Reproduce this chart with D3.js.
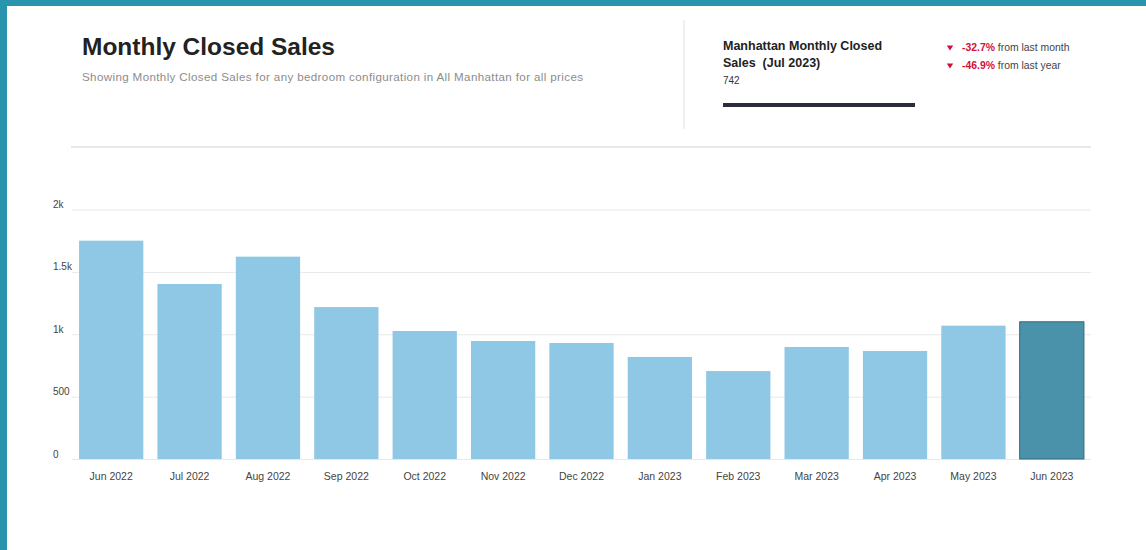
<html lang="en">
<head>
<meta charset="UTF-8">
<title>Monthly Closed Sales</title>
<style>
  body { margin: 0; }
  svg { display: block; font-family: "Liberation Sans", Arial, Helvetica, sans-serif; }
</style>
</head>
<body>
<script src="https://d3js.org/d3.v7.min.js"></script>
<script>
// data
const months = ['Jun 2022', 'Jul 2022', 'Aug 2022', 'Sep 2022', 'Oct 2022', 'Nov 2022', 'Dec 2022',
                'Jan 2023', 'Feb 2023', 'Mar 2023', 'Apr 2023', 'May 2023', 'Jun 2023']
const sales = [1750, 1403, 1622, 1218, 1026, 946, 930, 818, 705, 898, 866, 1069, 1100]
const yTicks = [0, 500, 1000, 1500, 2000]
const yTickLabels = ['0', '500', '1k', '1.5k', '2k']
const kpiTitle = ['Manhattan Monthly Closed', 'Sales  (Jul 2023)']
const kpiValue = '742'
const changes = [
    { pct: '-32.7%', text: 'from last month' },
    { pct: '-46.9%', text: 'from last year' }
]

const m = { width: 1146, height: 550 }

const svg = d3.select('body').append('svg')
    .attr('width', m.width)
    .attr('height', m.height)

// teal frame on the left and top
svg.append('rect').attr('width', m.width).attr('height', m.height).attr('fill', '#2a94ad')
svg.append('rect').attr('x', 7).attr('y', 6).attr('width', m.width - 7).attr('height', m.height - 6).attr('fill', '#fff')

// header
svg.append('text')
    .attr('x', 82).attr('y', 55)
    .attr('font-size', 24).attr('font-weight', 'bold').attr('fill', '#222')
    .attr('textLength', 253).attr('lengthAdjust', 'spacingAndGlyphs')
    .text('Monthly Closed Sales')

svg.append('text')
    .attr('x', 82).attr('y', 80.5)
    .attr('font-size', 11.6).attr('fill', '#8c8c8c')
    .attr('textLength', 501).attr('lengthAdjust', 'spacing')
    .text('Showing Monthly Closed Sales for any bedroom configuration in All Manhattan for all prices')

svg.append('line')
    .attr('x1', 684).attr('x2', 684).attr('y1', 20).attr('y2', 129)
    .attr('stroke', '#e6e6e6').attr('stroke-width', 1.2)

// KPI block
svg.selectAll('.kpi-title')
    .data(kpiTitle)
    .enter()
    .append('text')
        .attr('class', 'kpi-title')
        .attr('x', 723)
        .attr('y', (d, i) => 50 + i * 16.5)
        .attr('font-size', 12.5).attr('font-weight', 'bold').attr('fill', '#222')
        .style('white-space', 'pre')
        .text(d => d)

svg.append('text')
    .attr('x', 723).attr('y', 83.5)
    .attr('font-size', 10).attr('fill', '#333')
    .text(kpiValue)

svg.append('rect')
    .attr('x', 723).attr('y', 103).attr('width', 192).attr('height', 4)
    .attr('fill', '#2b2d3e')

const chg = svg.selectAll('.chg')
    .data(changes)
    .enter()
    .append('g')
        .attr('class', 'chg')
        .attr('transform', (d, i) => `translate(950,${47.7 + i * 18})`)

chg.append('path')
    .attr('d', 'M-3.2,-2.2 L3.2,-2.2 L0,2.8 Z')
    .attr('fill', '#d0103a')

const chgText = chg.append('text')
    .attr('x', 12).attr('y', 3.5)
    .attr('font-size', 10.4)
chgText.append('tspan')
    .attr('font-weight', 'bold').attr('fill', '#d0103a')
    .text(d => d.pct)
chgText.append('tspan')
    .attr('fill', '#444')
    .text(d => ' ' + d.text)

svg.append('line')
    .attr('x1', 71).attr('x2', 1091).attr('y1', 147).attr('y2', 147)
    .attr('stroke', '#e2e2e2').attr('stroke-width', 1.5)

// chart
const x = d3.scaleBand()
    .domain(months)
    .range([72, 1091])
    .paddingInner(0.18)
    .paddingOuter(0.09)

const y = d3.scaleLinear()
    .domain([0, 2000])
    .range([459, 209.5])

const yAxis = svg.append('g')
    .attr('transform', 'translate(72,0)')
    .call(d3.axisLeft(y)
        .tickValues(yTicks)
        .tickSize(-(1091 - 72))
        .tickFormat((d, i) => yTickLabels[i]))

yAxis.select('.domain').remove()
yAxis.selectAll('.tick line')
    .attr('stroke', '#e8e8e8')
yAxis.selectAll('.tick text')
    .attr('x', -19).attr('dy', '-0.2em')
    .attr('text-anchor', 'start')
    .attr('font-family', 'inherit')
    .attr('font-size', 10).attr('fill', '#444')

svg.selectAll('.bar')
    .data(sales)
    .enter()
    .append('rect')
        .attr('class', 'bar')
        .attr('x', (d, i) => x(months[i]))
        .attr('width', x.bandwidth())
        .attr('y', d => y(d))
        .attr('height', d => y(0) - y(d))
        .attr('fill', (d, i) => i === sales.length - 1 ? '#4a92a9' : '#8ec8e5')
        .attr('stroke', (d, i) => i === sales.length - 1 ? '#2f6b7c' : 'none')
        .attr('stroke-width', 1)

const xAxis = svg.append('g')
    .attr('transform', 'translate(0,459)')
    .call(d3.axisBottom(x).tickSize(0).tickPadding(14))

xAxis.select('.domain').remove()
xAxis.selectAll('.tick text')
    .attr('font-family', 'inherit')
    .attr('font-size', 10.5).attr('fill', '#444')
</script>
</body>
</html>
